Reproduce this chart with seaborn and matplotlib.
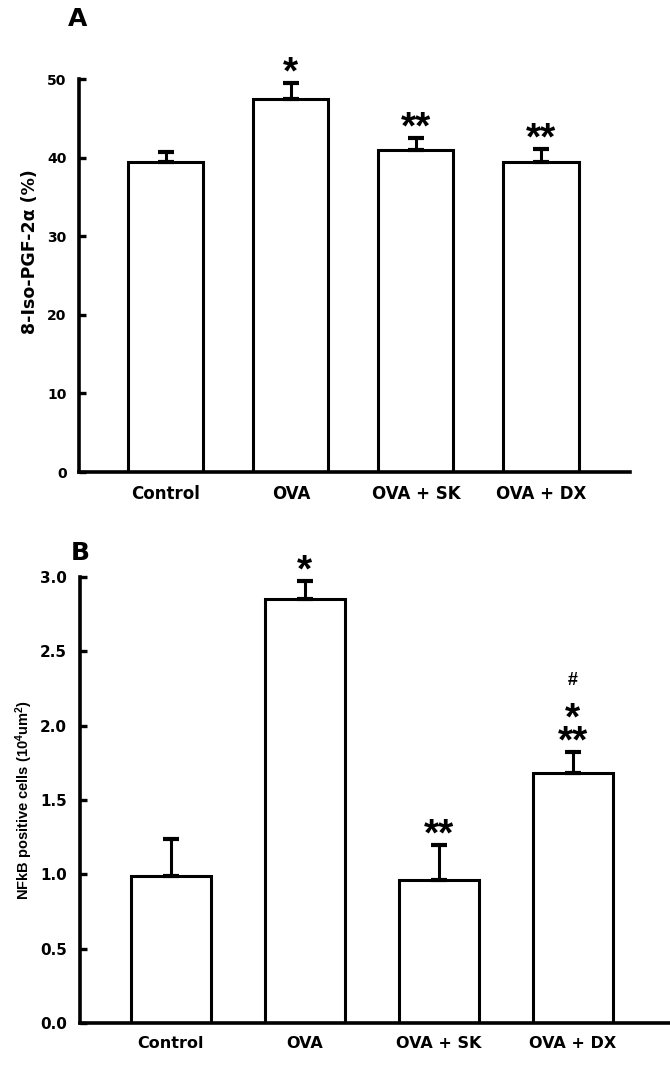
import matplotlib
matplotlib.use("Agg")
import matplotlib.pyplot as plt
import seaborn as sns
import pandas as pd
import numpy as np

groups = ["Control", "OVA", "OVA + SK", "OVA + DX"]

iso_mean = [39.5, 47.5, 41.0, 39.5]
iso_err = [1.2, 2.0, 1.5, 1.6]
iso_marks = [[], ["*"], ["**"], ["**"]]

nfkb_mean = [0.99, 2.85, 0.96, 1.68]
nfkb_err = [0.25, 0.12, 0.24, 0.14]
nfkb_marks = [[], ["*"], ["**"], ["**", "*", "#"]]

sns.set_style("ticks")
plt.rcParams["font.family"] = ["DejaVu Sans"]
plt.rcParams["font.weight"] = "bold"
plt.rcParams["mathtext.default"] = "regular"
for key in ["text.color", "axes.labelcolor", "xtick.color", "ytick.color",
            "axes.edgecolor"]:
    plt.rcParams[key] = "black"

fig = plt.figure(figsize=(6.7, 10.68), dpi=100)
ax_a = fig.add_axes([0.118, 0.558, 0.822, 0.368])
ax_b = fig.add_axes([0.119, 0.042, 0.880, 0.418])

STAR_PT = 28
STAR_STEP = 26  # px between stacked star rows


def put_marks(ax, mean, err, marks):
    # significance marks stacked upwards from the error cap
    for i, stack in enumerate(marks):
        stars = [m for m in stack if m != "#"]
        if not stars:
            continue
        top = mean[i] + err[i]
        centre = 17  # px from cap to centre of the first star row
        size_px = STAR_PT * 100 / 72
        base_px = centre - 0.45 * size_px
        ax.annotate("\n".join(reversed(stars)), xy=(i, top),
                    xytext=(0, base_px * 72 / 100), textcoords="offset points",
                    ha="center", va="baseline", fontsize=STAR_PT,
                    fontweight="bold", family="Liberation Sans",
                    linespacing=STAR_STEP / (1.2 * size_px))
        if "#" in stack:
            c = centre + STAR_STEP * (len(stars) - 1) + 31
            b = c - 0.36 * 13 * 100 / 72
            ax.annotate("#", xy=(i, top), xytext=(0, b * 72 / 100),
                        textcoords="offset points", ha="center",
                        va="baseline", fontsize=13, fontweight="bold",
                        family="Liberation Sans")


def draw_panel(ax, mean, err, ymax, yticks, xlim, tick_size, cat_size):
    df = pd.DataFrame({"group": groups, "value": mean})
    sns.barplot(data=df, x="group", y="value", ax=ax, color="white",
                edgecolor="black", linewidth=2.2, width=0.6, errorbar=None)
    x = np.arange(len(groups))
    ax.errorbar(x, mean, yerr=[np.zeros(len(err)), err], fmt="none",
                ecolor="black", elinewidth=2.2, capsize=6, capthick=3)
    ax.set_ylim(0, ymax)
    ax.set_xlim(*xlim)
    ax.set_yticks(yticks)
    ax.set_xlabel("")
    ax.tick_params(axis="y", direction="in", length=5, width=2.4,
                   labelsize=tick_size, pad=9)
    ax.tick_params(axis="x", length=0, labelsize=cat_size, pad=9)
    for lab in ax.get_xticklabels() + ax.get_yticklabels():
        lab.set_fontweight("bold")
    sns.despine(ax=ax)
    for sp in ["left", "bottom"]:
        ax.spines[sp].set_linewidth(2.6)


draw_panel(ax_a, iso_mean, iso_err, 50, range(0, 51, 10),
           (-0.694, 3.71), 10, 12)
ax_a.set_ylabel("8-Iso-PGF-2α (%)", fontsize=12.5, fontweight="bold")
ax_a.yaxis.set_label_coords(-0.073, 0.56)
put_marks(ax_a, iso_mean, iso_err, iso_marks)

draw_panel(ax_b, nfkb_mean, nfkb_err, 3.0,
           [0.0, 0.5, 1.0, 1.5, 2.0, 2.5, 3.0], (-0.68, 3.72), 11, 11.5)
ax_b.set_yticklabels([f"{v:.1f}" for v in ax_b.get_yticks()])
ax_b.set_ylabel("NFkB positive cells (10$^4$um$^2$)", fontsize=10.5,
                fontweight="bold", family="Liberation Sans", labelpad=4)
put_marks(ax_b, nfkb_mean, nfkb_err, nfkb_marks)

fig.text(68 / 670, 1 - 26 / 1068, "A", fontsize=18, fontweight="bold",
         ha="left", va="baseline")
fig.text(71 / 670, 1 - 560 / 1068, "B", fontsize=18, fontweight="bold",
         ha="left", va="baseline")

fig.savefig("out.png", dpi=100)
